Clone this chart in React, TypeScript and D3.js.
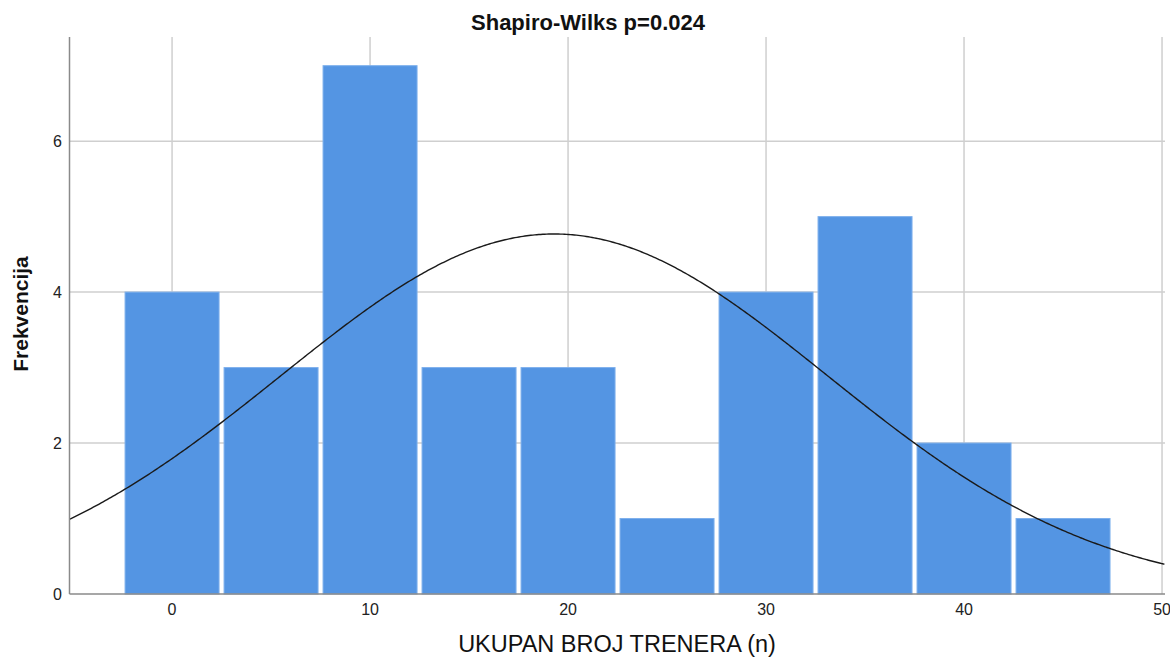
import React from "react";
import * as d3 from "d3";

const binStarts = [-2.5, 2.5, 7.5, 12.5, 17.5, 22.5, 27.5, 32.5, 37.5, 42.5];
const counts = [4, 3, 7, 3, 3, 1, 4, 5, 2, 1];
const binWidth = 5;
const xTicks = [0, 10, 20, 30, 40, 50];
const yTicks = [0, 2, 4, 6];
const curveMean = 19.3;
const curveSd = 13.8;
const title = "Shapiro-Wilks p=0.024";
const xTitle = "UKUPAN BROJ TRENERA (n)";
const yTitle = "Frekvencija";

const W = 1170;
const H = 660;
const left = 69.5;
const right = 1165;
const top = 37;
const bottom = 594;

export default function App() {
  const x = d3.scaleLinear().domain([-5.18, 50.15]).range([left, right]);
  const y = d3.scaleLinear().domain([0, 7.38]).range([bottom, top]);
  const n = d3.sum(counts);
  const pdf = (v: number) =>
    (n * binWidth) / (curveSd * Math.sqrt(2 * Math.PI)) *
    Math.exp(-0.5 * ((v - curveMean) / curveSd) ** 2);
  const pts = d3.range(-5.18, 50.16, 0.1).map((v) => [v, pdf(v)] as [number, number]);
  const line = d3
    .line<[number, number]>()
    .x((d) => x(d[0]))
    .y((d) => y(d[1]))
    .curve(d3.curveBasis);
  const font = "Liberation Sans, Arial, sans-serif";
  return (
    <svg
      width={W}
      height={H}
      style={{ position: "absolute", left: 0, top: 0, display: "block", background: "#fff" }}
      fontFamily={font}
    >
      {xTicks.map((t) => (
        <line key={"gx" + t} x1={x(t)} x2={x(t)} y1={top} y2={bottom} stroke="#cfcfcf" strokeWidth={1.5} />
      ))}
      {yTicks.filter((t) => t > 0).map((t) => (
        <line key={"gy" + t} x1={left} x2={right} y1={y(t)} y2={y(t)} stroke="#cfcfcf" strokeWidth={1.5} />
      ))}
      {counts.map((c, i) => (
        <rect
          key={"b" + i}
          x={x(binStarts[i]) + 2.5}
          width={x(binStarts[i] + binWidth) - x(binStarts[i]) - 5}
          y={y(c)}
          height={y(0) - y(c)}
          fill="#5495e3"
          stroke="#7eb0ec"
          strokeWidth={1}
        />
      ))}
      <path d={line(pts) || ""} fill="none" stroke="#1a1a1a" strokeWidth={1.4} />
      <line x1={left} x2={left} y1={top} y2={bottom} stroke="#8a8a8a" strokeWidth={1.5} />
      <line x1={left} x2={right} y1={bottom} y2={bottom} stroke="#8a8a8a" strokeWidth={1.5} />
      {yTicks.map((t) => (
        <text key={"ty" + t} x={62} y={y(t)} dy="0.36em" textAnchor="end" fontSize={16} fill="#222">
          {t}
        </text>
      ))}
      {xTicks.map((t) => (
        <text key={"tx" + t} x={x(t)} y={615} textAnchor="middle" fontSize={16} fill="#222">
          {t}
        </text>
      ))}
      <text x={588} y={30} textAnchor="middle" fontSize={22} fontWeight="bold" fill="#111">
        {title}
      </text>
      <text x={617} y={652} textAnchor="middle" fontSize={23.5} fill="#111">
        {xTitle}
      </text>
      <text
        transform={`translate(28,314) rotate(-90)`}
        textAnchor="middle"
        fontSize={21}
        fontWeight="bold"
        fill="#111"
      >
        {yTitle}
      </text>
    </svg>
  );
}
